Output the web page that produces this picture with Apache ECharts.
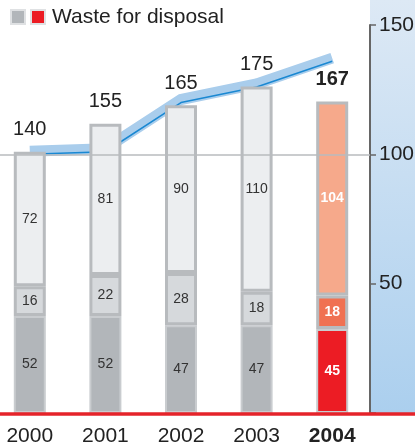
<!DOCTYPE html>
<html>
<head>
<meta charset="utf-8">
<script src="https://cdn.jsdelivr.net/npm/echarts@6/dist/echarts.min.js"></script>
<style>
  html, body { margin: 0; padding: 0; background: #fff; }
  #chart { width: 415px; height: 448px; }
</style>
</head>
<body>
<div id="chart"></div>
<script>
var years = ['2000', '2001', '2002', '2003', '2004'];
var bottomVals = [52, 52, 47, 47, 45];
var midVals = [16, 22, 28, 18, 18];
var topVals = [72, 81, 90, 110, 104];
var totals = [140, 155, 165, 175, 167];
var lineIdx = [100, 101, 120, 126, 136];
var rightTicks = [50, 100, 150];

var FONT = '"Liberation Sans", Arial, sans-serif';
var GRID_BOTTOM = 35;
var H = 448, W = 415;
var PANEL_X = 370;

var grays = ['#b2b6ba', '#d6d9dc', '#eceef0'];
var reds = ['#ec1c24', '#f07152', '#f6a98b'];
var last = years.length - 1;

function segData(vals, level) {
    return vals.map(function(v, i) {
        if (i === last) {
            return {
                value: v,
                itemStyle: { color: reds[level] },
                label: { color: '#fff', fontWeight: 'bold' }
            };
        }
        return v;
    });
}

function segSeries(vals, level) {
    return {
        type: 'bar',
        stack: 'waste',
        yAxisIndex: 0,
        barWidth: 32,
        z: 3,
        data: segData(vals, level),
        itemStyle: {
            color: grays[level],
            borderColor: level === 0 ? '#c9cccf' : '#b8bbbe',
            borderWidth: level === 0 ? 2 : 3
        },
        label: {
            show: true,
            position: 'inside',
            fontFamily: FONT,
            fontSize: 14,
            color: '#333'
        },
        silent: true
    };
}

var myChart = echarts.init(document.getElementById('chart'));
var option = {
    animation: false,
    grid: {
        left: -8,
        right: W - PANEL_X,
        top: 25,
        bottom: GRID_BOTTOM,
        outerBoundsMode: 'none',
        containLabel: false
    },
    graphic: [{
        type: 'rect',
        z: -10,
        shape: { x: PANEL_X, y: 0, width: W - PANEL_X, height: H - GRID_BOTTOM },
        style: {
            fill: new echarts.graphic.LinearGradient(0, 0, 0, 1, [
                { offset: 0, color: '#dde9f5' },
                { offset: 1, color: '#abcfee' }
            ])
        }
    }, {
        type: 'line',
        z: 100,
        shape: { x1: 0, y1: H - GRID_BOTTOM + 1, x2: W, y2: H - GRID_BOTTOM + 1 },
        style: { stroke: '#e5232a', lineWidth: 3.5 }
    }, {
        type: 'rect',
        shape: { x: 11, y: 10, width: 14, height: 14 },
        style: { fill: '#b2b6ba', stroke: '#dfe1e3', lineWidth: 2 }
    }, {
        type: 'rect',
        shape: { x: 31, y: 10, width: 14, height: 14 },
        style: { fill: '#ec1c24', stroke: '#dfe1e3', lineWidth: 2 }
    }, {
        type: 'text',
        x: 52, y: 17,
        style: {
            text: 'Waste for disposal',
            font: '21px ' + FONT,
            fill: '#222',
            textVerticalAlign: 'middle'
        }
    }],
    xAxis: {
        type: 'category',
        data: years,
        axisLine: { show: false },
        axisTick: { show: false },
        axisLabel: {
            interval: 0,
            hideOverlap: false,
            margin: 13,
            fontFamily: FONT,
            fontSize: 21,
            color: '#222',
            formatter: function(v, i) {
                return i === last ? '{b|' + v + '}' : v;
            },
            rich: { b: { fontFamily: FONT, fontSize: 21, fontWeight: 'bold', color: '#222' } }
        }
    },
    yAxis: [{
        type: 'value',
        show: false,
        min: 0,
        max: 208
    }, {
        type: 'value',
        position: 'right',
        min: 0,
        max: 150,
        interval: 50,
        axisLine: { show: true, lineStyle: { color: '#666', width: 2 } },
        axisTick: { show: true, length: 6, lineStyle: { color: '#666', width: 1.5 } },
        splitLine: { show: false },
        axisLabel: {
            margin: 9,
            fontFamily: FONT,
            fontSize: 21,
            color: '#222',
            formatter: function(v) {
                return rightTicks.indexOf(v) >= 0 ? String(v) : '';
            }
        }
    }, {
        // same scale as the right axis, nudged up for the band shadow
        type: 'value',
        show: false,
        min: -1.2,
        max: 148.8
    }],
    series: [{
        type: 'line',
        yAxisIndex: 2,
        data: lineIdx,
        symbol: 'none',
        z: 1,
        silent: true,
        lineStyle: { color: '#a9cdec', width: 11, cap: 'butt', join: 'miter' }
    }, {
        type: 'line',
        yAxisIndex: 1,
        data: lineIdx,
        symbol: 'none',
        z: 2,
        silent: true,
        lineStyle: { color: '#1a88d2', width: 1.5 },
        markLine: {
            silent: true,
            symbol: 'none',
            label: { show: false },
            lineStyle: { color: '#b8bbbe', width: 1.5, type: 'solid' },
            data: [{ yAxis: 100 }]
        }
    },
        segSeries(bottomVals, 0),
        segSeries(midVals, 1),
        segSeries(topVals, 2),
    {
        type: 'bar',
        stack: 'waste',
        yAxisIndex: 0,
        barWidth: 32,
        z: 4,
        silent: true,
        data: totals.map(function() { return 0; }),
        itemStyle: { color: 'rgba(0,0,0,0)' },
        label: {
            show: true,
            position: 'top',
            distance: 12,
            fontFamily: FONT,
            fontSize: 20,
            color: '#222',
            formatter: function(p) {
                return p.dataIndex === last ? '{b|' + totals[p.dataIndex] + '}' : String(totals[p.dataIndex]);
            },
            rich: { b: { fontFamily: FONT, fontSize: 20, fontWeight: 'bold', color: '#222' } }
        }
    }]
};
myChart.setOption(option);
</script>
</body>
</html>
